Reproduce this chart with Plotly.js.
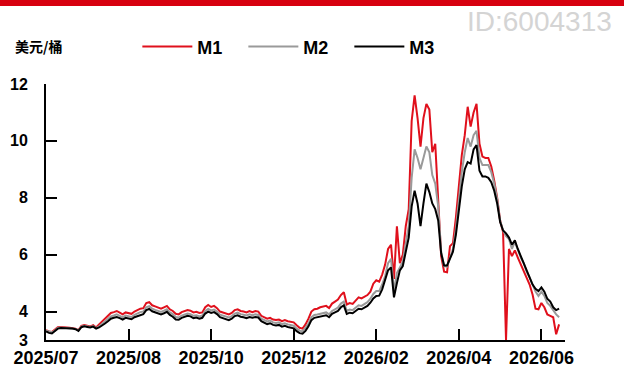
<!DOCTYPE html>
<html>
<head>
<meta charset="utf-8">
<script src="https://cdn.plot.ly/plotly-3.0.1.min.js"></script>
<style>
html,body{margin:0;padding:0;background:#fff;}
#chart{width:624px;height:374px;}
</style>
</head>
<body>
<div id="chart"></div>
<script>
// Trading-day index series (one value per sampled day)
const M1 = [3.35,3.30,3.28,3.35,3.45,3.46,3.44,3.44,3.43,3.42,3.40,3.35,3.50,3.53,3.50,3.48,3.52,3.44,3.55,3.65,
3.76,3.85,3.95,3.98,4.02,3.96,3.90,3.97,3.95,3.92,4.00,4.05,4.10,4.12,4.30,4.33,4.22,4.18,4.14,4.10,
4.15,4.20,4.08,4.02,3.92,3.90,3.98,4.02,4.05,4.03,3.97,3.99,3.95,3.97,4.15,4.23,4.16,4.20,4.12,4.00,
3.97,3.92,3.90,3.95,4.05,4.08,4.02,4.00,3.97,4.02,3.98,4.02,4.00,3.85,3.80,3.75,3.78,3.72,3.70,3.72,
3.66,3.70,3.66,3.64,3.62,3.52,3.43,3.40,3.55,3.75,4.00,4.08,4.10,4.15,4.18,4.20,4.12,4.28,4.35,4.42,
4.58,4.68,4.25,4.30,4.27,4.40,4.50,4.46,4.52,4.58,4.70,4.98,5.10,5.05,5.30,5.65,6.20,6.35,5.15,7.00,
5.70,6.00,7.00,7.60,10.70,11.60,10.80,9.80,10.80,11.30,11.10,9.60,9.90,8.10,5.95,5.40,5.38,6.30,6.40,7.30,
8.30,9.50,10.20,11.20,10.50,11.00,11.30,9.90,9.45,9.40,9.40,9.10,8.60,8.00,7.20,6.80,3.00,6.20,5.95,6.15,
5.90,5.65,5.45,5.15,4.95,4.60,4.10,4.08,4.30,4.15,3.90,3.85,3.80,3.20,3.55];

const M2 = [3.33,3.30,3.27,3.33,3.42,3.44,3.43,3.43,3.42,3.41,3.39,3.34,3.47,3.50,3.48,3.46,3.49,3.42,3.48,3.56,
3.66,3.74,3.83,3.86,3.90,3.85,3.80,3.86,3.84,3.81,3.88,3.93,3.98,4.00,4.15,4.19,4.10,4.06,4.02,3.99,
4.03,4.08,3.97,3.91,3.81,3.79,3.86,3.90,3.93,3.91,3.85,3.87,3.83,3.86,4.02,4.09,4.04,4.07,4.00,3.89,
3.86,3.81,3.79,3.84,3.93,3.96,3.91,3.89,3.86,3.90,3.87,3.90,3.88,3.75,3.70,3.65,3.68,3.62,3.60,3.62,
3.56,3.59,3.55,3.53,3.50,3.40,3.33,3.30,3.42,3.58,3.80,3.88,3.90,3.93,3.95,3.97,3.90,4.02,4.08,4.14,
4.28,4.35,4.02,4.07,4.05,4.14,4.22,4.20,4.27,4.33,4.45,4.62,4.72,4.72,4.95,5.25,5.70,5.85,4.72,5.35,
5.55,5.75,6.40,7.00,8.70,9.70,9.40,9.00,9.40,9.80,9.60,8.80,8.50,7.70,6.10,5.60,5.58,5.90,6.20,6.90,
7.90,8.90,9.60,10.10,9.80,10.20,10.35,9.40,9.15,9.15,9.15,8.90,8.50,7.95,7.20,6.85,6.65,6.55,6.20,6.45,
6.15,5.90,5.70,5.40,5.20,4.95,4.70,4.55,4.70,4.55,4.30,4.20,4.05,3.90,3.80];

const M3 = [3.30,3.25,3.23,3.30,3.40,3.42,3.42,3.41,3.40,3.40,3.38,3.32,3.45,3.48,3.46,3.44,3.47,3.40,3.44,3.50,
3.58,3.66,3.75,3.78,3.81,3.77,3.72,3.78,3.76,3.73,3.80,3.84,3.89,3.91,4.05,4.09,4.01,3.97,3.93,3.90,
3.94,3.99,3.88,3.82,3.72,3.71,3.78,3.82,3.85,3.83,3.77,3.79,3.75,3.78,3.93,4.00,3.95,3.98,3.91,3.80,
3.77,3.72,3.70,3.75,3.84,3.87,3.82,3.80,3.77,3.81,3.78,3.81,3.79,3.66,3.61,3.56,3.59,3.53,3.51,3.53,
3.47,3.50,3.46,3.44,3.41,3.31,3.24,3.22,3.32,3.48,3.70,3.78,3.80,3.83,3.85,3.87,3.80,3.92,3.97,4.02,
4.15,4.22,3.92,3.96,3.94,4.02,4.10,4.08,4.14,4.20,4.31,4.46,4.55,4.56,4.78,5.08,5.45,5.55,4.50,5.00,
5.45,5.60,6.10,6.60,7.70,8.25,7.80,7.00,7.80,8.50,8.20,7.80,7.60,7.20,6.05,5.62,5.62,5.85,6.10,6.70,
7.60,8.40,9.00,9.25,9.20,9.70,9.85,8.95,8.75,8.75,8.70,8.55,8.25,7.80,7.15,6.85,6.75,6.60,6.35,6.50,
6.20,5.95,5.70,5.40,5.20,4.95,4.80,4.72,4.85,4.70,4.45,4.35,4.15,4.05,4.10];

const tickLabels = ['2025/07','2025/08','2025/10','2025/12','2026/02','2026/04','2026/06',''];
const tickIdx = [0,28,56,84,112,140,168,176];
const yTicks = [3,4,6,8,10,12];
const unitLabel = '美元/桶';
const idText = 'ID:6004313';

const idx = M1.map((_, i) => i);
const boldFont = "'Liberation Sans',Arial,sans-serif";

const traces = [
  {x: idx, y: M1, name: 'M1', type: 'scatter', mode: 'lines', line: {color: '#e0101c', width: 2}},
  {x: idx, y: M2, name: 'M2', type: 'scatter', mode: 'lines', line: {color: '#9a9a9a', width: 2}},
  {x: idx, y: M3, name: 'M3', type: 'scatter', mode: 'lines', line: {color: '#000000', width: 2}}
];

const layout = {
  width: 624, height: 374,
  margin: {l: 46, r: 59, t: 84, b: 34, pad: 0},
  paper_bgcolor: '#ffffff', plot_bgcolor: '#ffffff',
  showlegend: true,
  legend: {
    orientation: 'h', x: 0.176, xanchor: 'left', y: 1.145, yanchor: 'middle',
    font: {family: boldFont, size: 18, color: '#000', weight: 'bold'},
    itemwidth: 50,
    entrywidth: 41, entrywidthmode: 'pixels', bgcolor: 'rgba(0,0,0,0)', tracegroupgap: 0
  },
  xaxis: {
    type: 'linear', range: [0, 176], showgrid: false, zeroline: false,
    showline: true, linecolor: '#000000', linewidth: 2,
    ticks: 'inside', ticklen: 11, tickwidth: 2, tickcolor: '#000000',
    tickmode: 'array', tickvals: tickIdx, ticktext: tickLabels,
    tickfont: {family: boldFont, size: 18, color: '#000', weight: 'bold'}
  },
  yaxis: {
    type: 'linear', range: [3, 12], showgrid: false, zeroline: false,
    showline: true, linecolor: '#000000', linewidth: 2,
    ticks: 'inside', ticklen: 11, tickwidth: 2, tickcolor: '#000000',
    tickmode: 'array', tickvals: yTicks,
    tickfont: {family: boldFont, size: 16, color: '#000', weight: 'bold'},
    ticklabelstandoff: 13
  },
  shapes: [
    {type: 'rect', xref: 'paper', yref: 'paper', x0: -0.1, x1: 1.2, y0: 1 + 78/256, y1: 1 + 90/256,
     fillcolor: '#d7000f', line: {width: 0}}
  ],
  annotations: [
    {text: unitLabel, xref: 'paper', yref: 'paper', x: -33/519, y: 1 + 38/256, xanchor: 'left', yanchor: 'middle',
     showarrow: false, font: {family: "'Noto Sans CJK SC',sans-serif", size: 14, color: '#000', weight: 'bold'}},
    {text: idText, xref: 'paper', yref: 'paper', x: 568/519, y: 1 + 63/256, xanchor: 'right', yanchor: 'middle',
     showarrow: false, font: {family: "'Liberation Sans',Arial,sans-serif", size: 28, color: '#d4d4d4'}}
  ]
};

Plotly.newPlot('chart', traces, layout, {displayModeBar: false});
</script>
</body>
</html>
